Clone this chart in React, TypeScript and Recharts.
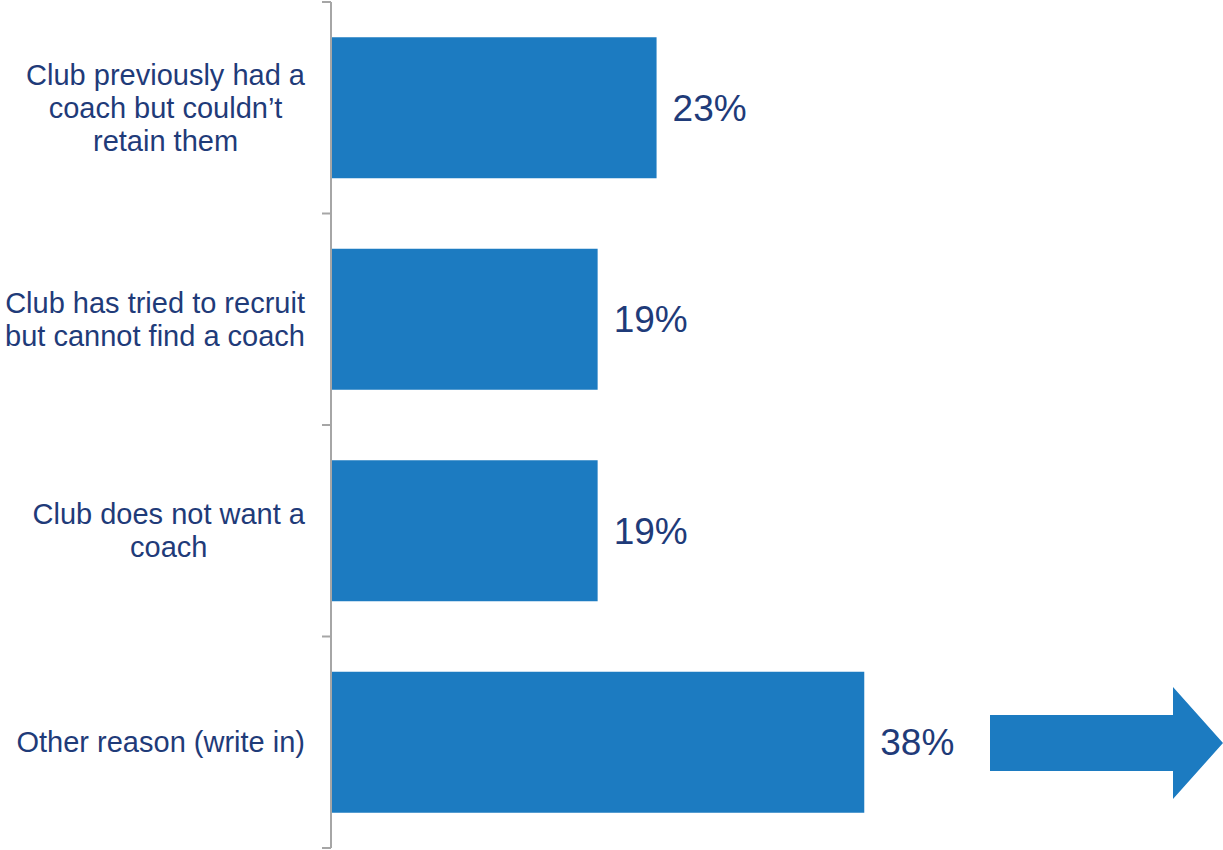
import { BarChart, Bar, XAxis, YAxis, LabelList } from "recharts";

const reasons = [
    ["Club previously had a", "coach but couldn\u2019t", "retain them"],
    ["Club has tried to recruit", "but cannot find a coach"],
    ["Club does not want a", "coach"],
    ["Other reason (write in)"],
];
const shares = [23.2, 19, 19, 38];

const data = reasons.map((lines, i) => ({ name: lines.join(" "), value: shares[i] }));

const W = 1223;
const H = 850;
const AXIS_W = 331;
const TOP = 2;
const BOTTOM = 2;
const BAND = (H - TOP - BOTTOM) / reasons.length;
const NAVY = "#1F3B79";
const BLUE = "#1C7BC1";
const FONT = "'Liberation Sans', Arial, sans-serif";
const LABEL_SIZE = 29;
const LINE_H = 33;

let ctx: CanvasRenderingContext2D | null = null;
function textWidth(s: string) {
    if (!ctx) ctx = document.createElement("canvas").getContext("2d");
    if (!ctx) return s.length * LABEL_SIZE * 0.5;
    ctx.font = `${LABEL_SIZE}px ${FONT}`;
    return ctx.measureText(s).width;
}

function CategoryTick(props: any) {
    const { y, index } = props;
    const lines = reasons[index] || [];
    // text box is right aligned, lines centred inside it
    const maxW = Math.max(...lines.map(textWidth));
    const cx = 305 - maxW / 2;
    const last = index === reasons.length - 1;
    return (
        <g>
            <line x1={AXIS_W - 9} x2={AXIS_W} y1={y - BAND / 2} y2={y - BAND / 2} stroke="#A6A6A6" strokeWidth={2} />
            {last && (
                <line x1={AXIS_W - 9} x2={AXIS_W} y1={y + BAND / 2} y2={y + BAND / 2} stroke="#A6A6A6" strokeWidth={2} />
            )}
            {lines.map((l, i) => (
                <text
                    key={i}
                    x={cx}
                    y={y + (i - (lines.length - 1) / 2) * LINE_H}
                    dy="0.35em"
                    textAnchor="middle"
                    fill={NAVY}
                    fontSize={LABEL_SIZE}
                    fontFamily={FONT}
                >
                    {l}
                </text>
            ))}
        </g>
    );
}

export default function App() {
    return (
        <div style={{ position: "absolute", left: 0, top: 0, width: W, height: H, background: "#fff", overflow: "hidden" }}>
            <BarChart
                width={W}
                height={H}
                data={data}
                layout="vertical"
                margin={{ top: TOP, right: 50, bottom: BOTTOM, left: 0 }}
                barCategoryGap="16.7%"
            >
                <XAxis type="number" domain={[0, 60]} hide />
                <YAxis
                    type="category"
                    dataKey="name"
                    width={AXIS_W}
                    axisLine={{ stroke: "#A6A6A6", strokeWidth: 2 }}
                    tickLine={false}
                    tick={<CategoryTick />}
                    interval={0}
                />
                <Bar dataKey="value" fill={BLUE} isAnimationActive={false}>
                    <LabelList
                        dataKey="value"
                        position="right"
                        offset={16}
                        fill={NAVY}
                        fontSize={37}
                        fontFamily={FONT}
                        formatter={(v: any) => `${Math.round(Number(v))}%`}
                    />
                </Bar>
            </BarChart>
            <svg
                width={233}
                height={112}
                style={{ position: "absolute", left: 990, top: 687 }}
            >
                <polygon points="0,28 183,28 183,0 233,56 183,112 183,84 0,84" fill={BLUE} />
            </svg>
        </div>
    );
}
